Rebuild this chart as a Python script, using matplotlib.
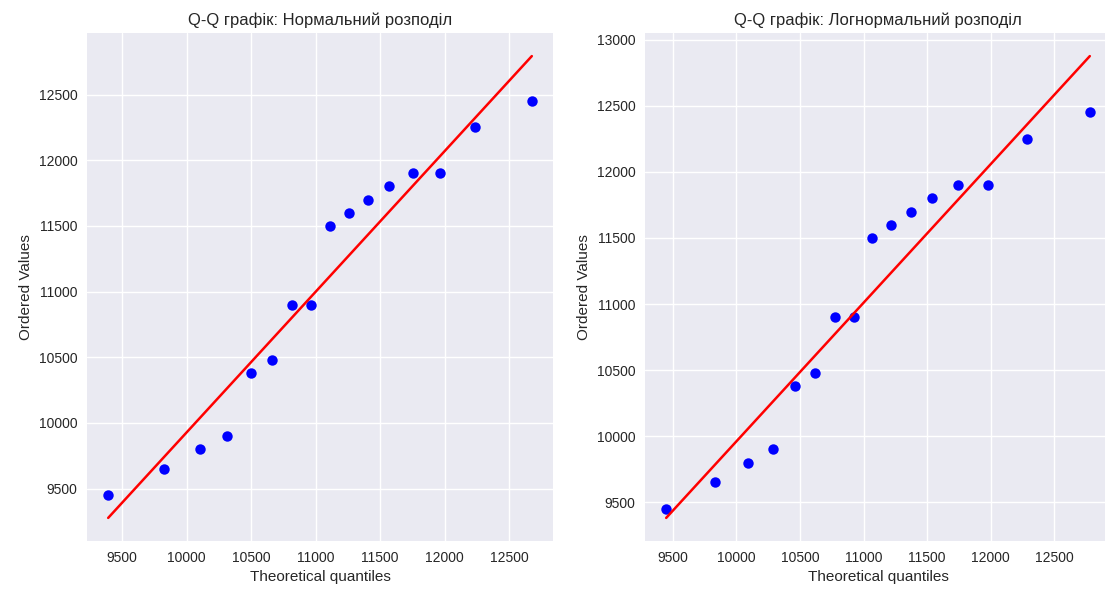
import numpy as np
import matplotlib
matplotlib.use('Agg')
import matplotlib.pyplot as plt

plt.style.use('seaborn-v0_8')

# ordered sample values (same for both panels)
ordered = [9450, 9650, 9800, 9900, 10380, 10480, 10900, 10900,
           11500, 11600, 11700, 11800, 11900, 11900, 12250, 12450]

# theoretical quantiles
theo_norm = [9391, 9826, 10102, 10314, 10495, 10663, 10818, 10961,
             11110, 11255, 11407, 11567, 11756, 11963, 12234, 12676]
theo_lognorm = [9448, 9834, 10091, 10287, 10458, 10616, 10773, 10922,
                11063, 11213, 11370, 11536, 11740, 11976, 12283, 12780]

titles = ['Q-Q графік: Нормальний розподіл', 'Q-Q графік: Логнормальний розподіл']

fig, axes = plt.subplots(1, 2, figsize=(11.05, 5.92), dpi=100)

for ax, theo, title in zip(axes, [theo_norm, theo_lognorm], titles):
    x = np.array(theo)
    y = np.array(ordered)
    slope, icpt = np.polyfit(x, y, 1)
    ax.plot(x, y, 'o', color='blue', markersize=7.5)
    ax.plot(x, slope * x + icpt, color='red', lw=1.8)
    ax.set_title(title, fontsize=12)
    ax.set_xlabel('Theoretical quantiles', fontsize=11)
    ax.set_ylabel('Ordered Values', fontsize=11)
    ax.tick_params(labelsize=10)

# axes placement in figure fractions (right panel runs off the edge, as in the source)
axes[0].set_position([87/1105, 51/592, 466/1105, 508/592])
axes[1].set_position([645/1105, 51/592, 466/1105, 508/592])

plt.savefig('out.png')
